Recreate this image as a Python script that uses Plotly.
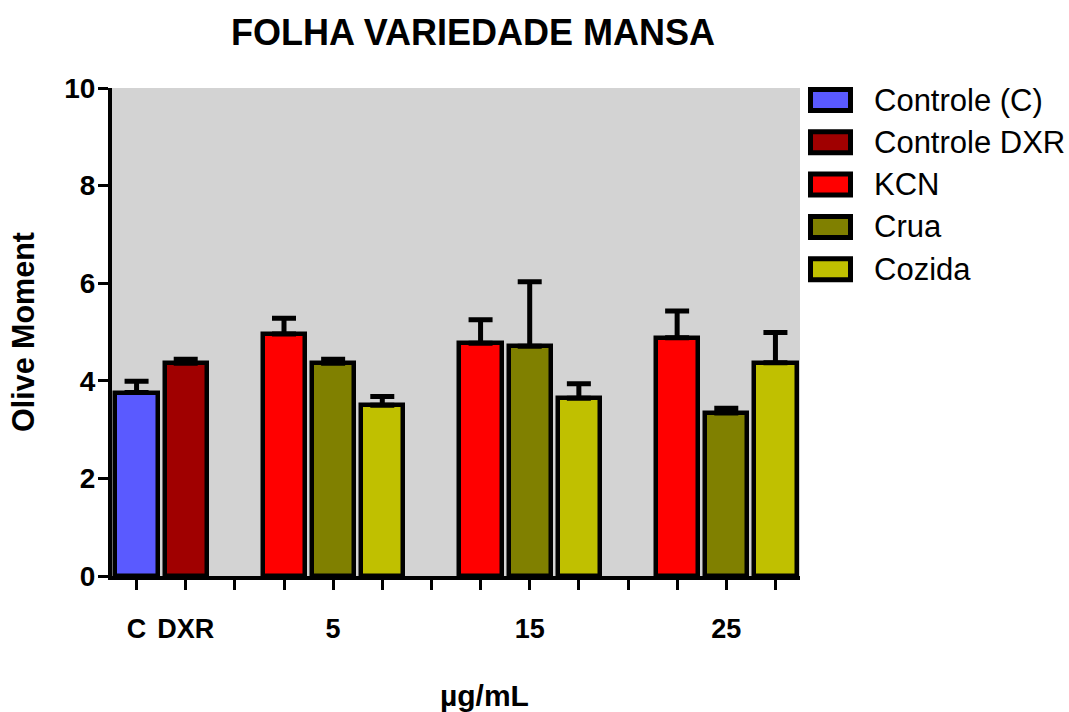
import plotly.graph_objects as go

# ---- data ----
series_names = ["Controle (C)", "Controle DXR", "KCN", "Crua", "Cozida"]
series_colors = ["#5a5aff", "#a00000", "#ff0000", "#808000", "#c0c000"]

control_labels = ["C", "DXR"]
control_values = [3.76, 4.36]
control_errors = [0.23, 0.08]

doses = ["5", "15", "25"]
kcn_values = [4.96, 4.77, 4.88]
kcn_errors = [0.32, 0.48, 0.55]
crua_values = [4.36, 4.71, 3.34]
crua_errors = [0.08, 1.32, 0.10]
cozida_values = [3.50, 3.64, 4.37]
cozida_errors = [0.18, 0.30, 0.62]

y_ticks = [0, 2, 4, 6, 8, 10]

# ---- layout geometry (pixels) ----
W, H = 1069, 712
L, R, T, B = 112, 800, 88, 576
FONT = "Liberation Sans, Arial, sans-serif"


def px_x(p):
    return (p - L) / (R - L)


def px_y(p):
    return (B - p) / (B - T)


fig = go.Figure()

bar_width = 0.86
err_style = dict(type="data", symmetric=False, color="black", thickness=5, width=12)
outline = dict(color="black", width=4.5)

# controls at slots 0,1 ; dose groups follow with one empty slot between groups
for i in range(2):
    fig.add_trace(go.Bar(
        x=[i], y=[control_values[i]], name=series_names[i], width=bar_width,
        marker=dict(color=series_colors[i], line=outline),
        error_y=dict(array=[control_errors[i]], arrayminus=[0], **err_style),
        showlegend=False,
    ))

group_series = [(kcn_values, kcn_errors), (crua_values, crua_errors), (cozida_values, cozida_errors)]
for k, (vals, errs) in enumerate(group_series):
    xs = [3 + 4 * g + k for g in range(len(doses))]
    fig.add_trace(go.Bar(
        x=xs, y=vals, name=series_names[2 + k], width=bar_width,
        marker=dict(color=series_colors[2 + k], line=outline),
        error_y=dict(array=errs, arrayminus=[0] * len(errs), **err_style),
        showlegend=False,
    ))

n_slots = 3 + 4 * len(doses) - 1
tickvals = list(range(n_slots))
ticktext = [""] * n_slots
ticktext[0], ticktext[1] = control_labels
for g, d in enumerate(doses):
    ticktext[3 + 4 * g + 1] = d

fig.update_layout(
    width=W, height=H,
    margin=dict(l=L, r=W - R, t=T, b=H - B, pad=0),
    paper_bgcolor="white",
    plot_bgcolor="#d3d3d3",
    font=dict(family=FONT, color="black"),
    bargap=0,
    title=dict(text="<b>FOLHA VARIEDADE MANSA</b>", font=dict(size=36, family=FONT),
               x=px_x(473), xref="paper", xanchor="center",
               y=1 - 32 / H, yref="container", yanchor="middle"),
    xaxis=dict(range=[-0.5, n_slots - 0.5], tickvals=tickvals,
               ticktext=[f"<b>{t}</b>" if t else "" for t in ticktext],
               showgrid=False, zeroline=False, showline=True, linecolor="black", linewidth=4,
               ticks="outside", ticklen=10, tickwidth=2.5, tickcolor="black",
               tickfont=dict(size=27, family=FONT), ticklabelstandoff=16),
    yaxis=dict(range=[0, 10], tickvals=y_ticks, ticktext=[f"<b>{v}</b>" for v in y_ticks],
               showgrid=False, zeroline=False, showline=True, linecolor="black", linewidth=4,
               ticks="outside", ticklen=10, tickwidth=3, tickcolor="black",
               tickfont=dict(size=28, family=FONT), ticklabelstandoff=-3,
               title=dict(text="<b>Olive Moment</b>", font=dict(size=30.5, family=FONT), standoff=22)),
)

# x-axis title
fig.add_annotation(text="<b>µg/mL</b>", x=px_x(484), y=px_y(695), xref="paper", yref="paper",
                   showarrow=False, font=dict(size=30, family=FONT), xanchor="center", yanchor="middle")

# custom legend (large boxed swatches)
row0, row_step = 100, 42.3
for i, (name, col) in enumerate(zip(series_names, series_colors)):
    cy = row0 + i * row_step
    fig.add_shape(type="rect", xref="paper", yref="paper",
                  x0=px_x(810.5), x1=px_x(850.5), y0=px_y(cy + 10.5), y1=px_y(cy - 10.5),
                  fillcolor=col, line=dict(color="black", width=5))
    fig.add_annotation(text=name, x=px_x(872), y=px_y(cy), xref="paper", yref="paper",
                       showarrow=False, xanchor="left", yanchor="middle",
                       font=dict(size=31, family=FONT))

fig.write_html("out.html")
